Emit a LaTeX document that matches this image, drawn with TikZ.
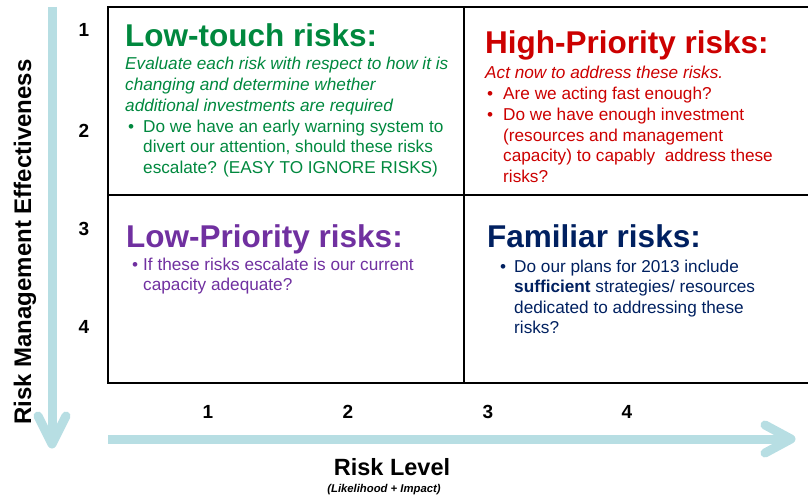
\documentclass[tikz,border=0pt]{standalone}
\usepackage{fontspec}
\setmainfont{Liberation Sans}

\definecolor{touchgreen}{RGB}{0,136,62}
\definecolor{highred}{RGB}{204,0,0}
\definecolor{lowpurple}{RGB}{112,48,160}
\definecolor{familiarnavy}{RGB}{0,32,96}
\definecolor{axisblue}{RGB}{183,222,227}

\tikzset{
  quadtitle/.style={anchor=base west, inner sep=0pt, font=\fontsize{31.5}{36}\selectfont\bfseries},
  body/.style={anchor=base west, inner sep=0pt, font=\fontsize{17.2}{20.6}\selectfont},
  axisnum/.style={anchor=base, inner sep=0pt, font=\fontsize{19}{22}\selectfont\bfseries},
  axisbar/.style={draw=axisblue, line width=9pt},
  axishead/.style={draw=axisblue, line width=9pt, line cap=round, line join=round},
  gridline/.style={line width=2pt}
}

\begin{document}
\begin{tikzpicture}[x=1pt,y=-1pt]
\useasboundingbox (0,0) rectangle (808,500);

% axes
\coordinate (ytop) at (52,7);
\coordinate (ytip) at (52,444);
\draw[axisbar] (ytop) -- (52,440);
\draw[axishead] (38,416) -- (ytip) -- (66,416);
\coordinate (xstart) at (108,439);
\coordinate (xtip) at (791,439);
\draw[axisbar] (xstart) -- (787,439);
\draw[axishead] (765,425) -- (xtip) -- (765,453);

% the 2x2 grid
\draw[gridline] (808,7) -- (108,7) -- (108,383) -- (808,383);
\draw[gridline] (108,195) -- (808,195);
\draw[gridline] (464,7) -- (464,383);

% scale numbers
\foreach \n/\y in {1/37,2/137,3/235,4/333}
  \node[axisnum] (row\n) at (84,\y) {\n};
\foreach \n/\x in {1/208,2/348,3/488,4/627}
  \node[axisnum] (col\n) at (\x,418) {\n};

\node[rotate=90, anchor=base, inner sep=0pt, font=\fontsize{24}{28}\selectfont\bfseries] (efflabel) at (31,242) {Risk Management Effectiveness};
\node[anchor=base, inner sep=0pt, font=\fontsize{23.5}{28}\selectfont\bfseries] (levellabel) at (392,475) {Risk Level};
\node[anchor=base, inner sep=0pt, font=\fontsize{11.3}{13}\selectfont\bfseries\itshape] (levelnote) at (384,492) {(Likelihood + Impact)};

% top left
\node[quadtitle, text=touchgreen] (touchtitle) at (125,47) {Low-touch risks:};
\node[body, text=touchgreen] (touchnote) at (125,70) {\begin{tabular}[t]{@{}l@{}}
  \itshape Evaluate each risk with respect to how it is\\
  \itshape changing and determine whether\\
  \itshape additional investments are required
\end{tabular}};
\node[body, text=touchgreen] (touchlist) at (128,132) {\begin{tabular}[t]{@{}l@{\hspace{9pt}}l@{}}
  \textbullet & Do we have an early warning system to\\
  & divert our attention, should these risks\\
  & escalate? (EASY TO IGNORE RISKS)
\end{tabular}};

% top right
\node[quadtitle, text=highred] (hightitle) at (485,54) {High-Priority risks:};
\node[body, text=highred] (highnote) at (485,79) {\itshape Act now to address these risks.};
\node[body, text=highred] (highlist) at (487,100) {\begin{tabular}[t]{@{}l@{\hspace{10pt}}l@{}}
  \textbullet & Are we acting fast enough?\\
  \textbullet & Do we have enough investment\\
  & (resources and management\\
  & capacity) to capably\ \ address these\\
  & risks?
\end{tabular}};

% bottom left
\node[quadtitle, text=lowpurple] (lowtitle) at (126,247) {Low-Priority risks:};
\node[body, text=lowpurple] (lowlist) at (132,270) {\begin{tabular}[t]{@{}l@{\hspace{5pt}}l@{}}
  \textbullet & If these risks escalate is our current\\
  & capacity adequate?
\end{tabular}};

% bottom right
\node[quadtitle, text=familiarnavy] (famtitle) at (487,247) {Familiar risks:};
\node[body, text=familiarnavy] (famlist) at (500,272) {\begin{tabular}[t]{@{}l@{\hspace{8pt}}l@{}}
  \textbullet & Do our plans for 2013 include\\
  & \textbf{sufficient} strategies/ resources\\
  & dedicated to addressing these\\
  & risks?
\end{tabular}};
\end{tikzpicture}
\end{document}
